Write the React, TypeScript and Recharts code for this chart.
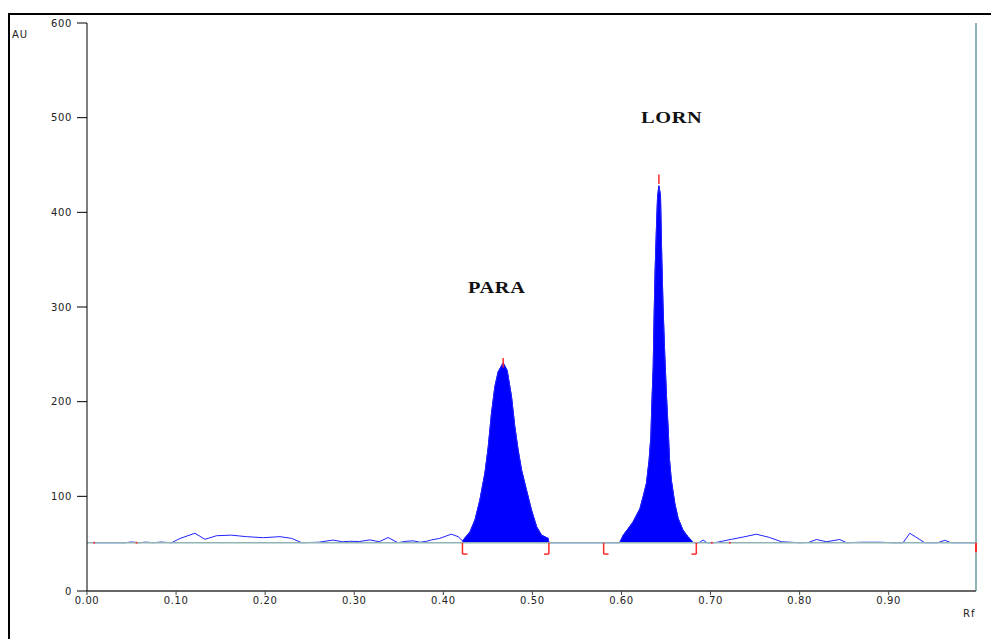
import React from 'react';
import { ComposedChart, Area, Line, XAxis, YAxis, ReferenceLine, ReferenceDot } from 'recharts';

// ---- axis ticks ----
const xTicks = [0, 0.1, 0.2, 0.3, 0.4, 0.5, 0.6, 0.7, 0.8, 0.9];
const yTicks = [0, 100, 200, 300, 400, 500, 600];
const rfMax = 0.998;
const baselineAu = 51;

// ---- trace segments (Rf, AU) ----
const noiseLeftRf = [0.007, 0.043, 0.05, 0.058, 0.066, 0.075, 0.083, 0.095, 0.1044, 0.1212, 0.1324, 0.1455, 0.162, 0.179, 0.198, 0.2166, 0.2297, 0.241, 0.26, 0.276, 0.287, 0.295, 0.306, 0.3176, 0.328, 0.338, 0.349, 0.358, 0.366, 0.374, 0.381, 0.387, 0.396, 0.409, 0.4167];
const noiseLeftAu = [51, 51, 51.8, 51, 51.6, 51, 51.7, 51, 55.5, 61, 54.6, 58.4, 59, 57.4, 56.3, 57.4, 55.6, 51, 51.5, 53.8, 52, 52.5, 52.3, 54, 52, 56.5, 51, 52.5, 53, 51.5, 52.5, 54, 55.6, 60, 57.4];

const paraRf = [0.4215, 0.43, 0.4355, 0.441, 0.4467, 0.4504, 0.4541, 0.4579, 0.4616, 0.4672, 0.4717, 0.4766, 0.4803, 0.484, 0.4878, 0.4934, 0.499, 0.5047, 0.5103, 0.5177, 0.5185];
const paraAu = [53, 62.6, 75, 96, 124.6, 152, 188, 216, 231.6, 241, 233, 205, 173.5, 149, 128, 106.6, 85.5, 68, 59, 55.6, 51];

const midRf = [0.525, 0.55, 0.57, 0.58, 0.59];
const midAu = [51, 51, 51, 51, 51];

const lornRf = [0.598, 0.602, 0.6076, 0.613, 0.6207, 0.6243, 0.628, 0.631, 0.633, 0.634, 0.6356, 0.6367, 0.6378, 0.6393, 0.6405, 0.642, 0.6438, 0.6453, 0.6468, 0.6487, 0.6506, 0.6525, 0.654, 0.656, 0.6599, 0.6636, 0.669, 0.6746, 0.68, 0.681];
const lornAu = [51, 59, 66, 73, 87, 99.6, 113.7, 138, 163, 194.6, 236.8, 293, 339, 384.7, 416, 428, 418, 349.5, 296.7, 247, 205, 170, 138, 117, 92.6, 76.8, 64.4, 57.4, 52, 51];

const noiseRightRf = [0.687, 0.6917, 0.696, 0.705, 0.7235, 0.7366, 0.7515, 0.766, 0.7797, 0.8, 0.81, 0.8189, 0.83, 0.845, 0.8526, 0.87, 0.89, 0.905, 0.916, 0.9237, 0.9405, 0.955, 0.963, 0.97, 0.997];
const noiseRightAu = [51, 53.8, 51, 51, 54.6, 57, 60, 56.6, 52, 51, 51.3, 54.4, 52, 54.4, 51, 51.5, 51.5, 51, 51, 61, 51, 51, 53.6, 51, 51];

// ---- integration markers ----
const peakStartRf = [0.4215, 0.58];
const peakEndRf = [0.5185, 0.684];
const peakTopRf = [0.4672, 0.642];
const peakTopAu = [246, 440];
const markerDotRf = [0.008, 0.0555, 0.7015, 0.7217];

type Row = { rf: number; au: number; peak: number | null };
const seg = (rfs: number[], aus: number[], filled: boolean): Row[] =>
  rfs.map((rf, i) => ({ rf, au: aus[i], peak: filled ? aus[i] : null }));

const rows: Row[] = [
  ...seg(noiseLeftRf, noiseLeftAu, false),
  ...seg(paraRf, paraAu, true),
  ...seg(midRf, midAu, false),
  ...seg(lornRf, lornAu, true),
  ...seg(noiseRightRf, noiseRightAu, false),
];

const RED = '#ff2a2a';
const TEAL = '#8fb4b4';
const BLUE = '#0000ff';
const footW = 0.0055;
const footY = 39;

const tickFont = { fontSize: 10, fontFamily: '"DejaVu Sans", Verdana, sans-serif', fill: '#222', letterSpacing: 0.6 };
const sideLabel: React.CSSProperties = { position: 'absolute', fontSize: 10, lineHeight: '10px', fontFamily: '"DejaVu Sans", Verdana, sans-serif', letterSpacing: 1, color: '#222' };
const peakLabel: React.CSSProperties = { position: 'absolute', fontSize: 16, lineHeight: '16px', fontFamily: '"Liberation Serif", "Times New Roman", serif', fontWeight: 'bold', letterSpacing: 0.5, color: '#111', transform: 'scaleX(1.27)', transformOrigin: 'left top' };

export default function App() {
  return (
    <div style={{ position: 'absolute', left: 0, top: 0, width: 991, height: 639, overflow: 'hidden', background: '#fff' }}>
      <div style={{ position: 'absolute', left: 8, top: 13, width: 983, height: 626, boxSizing: 'border-box', borderTop: '2px solid #000', borderLeft: '2px solid #000' }} />
      <div style={{ position: 'absolute', left: 0, top: 0 }}>
        <ComposedChart width={991} height={639} data={rows} margin={{ top: 23, right: 15, bottom: 18, left: 27 }}>
          <XAxis
            dataKey="rf"
            type="number"
            domain={[0, rfMax]}
            ticks={xTicks}
            tickFormatter={(v: number) => v.toFixed(2)}
            height={30}
            axisLine={{ stroke: '#666', strokeWidth: 2 }}
            tickLine={{ stroke: '#444' }}
            tickSize={4}
            tickMargin={2}
            tick={tickFont}
            allowDataOverflow
          />
          <YAxis
            type="number"
            domain={[0, 600]}
            ticks={yTicks}
            width={60}
            axisLine={{ stroke: '#000' }}
            tickLine={{ stroke: '#000' }}
            tickSize={10}
            tickMargin={5}
            tick={tickFont}
            allowDataOverflow
          />
          <ReferenceLine x={rfMax} stroke={TEAL} strokeWidth={2} />
          <Area
            type="linear"
            dataKey="peak"
            baseValue={baselineAu}
            stroke={BLUE}
            strokeWidth={1}
            fill={BLUE}
            fillOpacity={1}
            connectNulls={false}
            isAnimationActive={false}
            dot={false}
            activeDot={false}
          />
          <Line
            type="linear"
            dataKey="au"
            stroke="#2222ff"
            strokeWidth={1}
            dot={false}
            activeDot={false}
            isAnimationActive={false}
          />
          <ReferenceLine y={baselineAu} stroke={TEAL} strokeWidth={1.5} />
          {peakStartRf.map((x, i) => (
            <ReferenceLine key={'s' + i} segment={[{ x, y: baselineAu }, { x, y: footY }]} stroke={RED} strokeWidth={1.5} />
          ))}
          {peakStartRf.map((x, i) => (
            <ReferenceLine key={'sf' + i} segment={[{ x, y: footY }, { x: x + footW, y: footY }]} stroke={RED} strokeWidth={1.5} />
          ))}
          {peakEndRf.map((x, i) => (
            <ReferenceLine key={'e' + i} segment={[{ x, y: baselineAu }, { x, y: footY }]} stroke={RED} strokeWidth={1.5} />
          ))}
          {peakEndRf.map((x, i) => (
            <ReferenceLine key={'ef' + i} segment={[{ x: x - footW, y: footY }, { x, y: footY }]} stroke={RED} strokeWidth={1.5} />
          ))}
          {peakTopRf.map((x, i) => (
            <ReferenceLine key={'t' + i} segment={[{ x, y: peakTopAu[i] }, { x, y: peakTopAu[i] - 10 }]} stroke={RED} strokeWidth={1.5} />
          ))}
          <ReferenceLine segment={[{ x: rfMax, y: baselineAu }, { x: rfMax, y: 41 }]} stroke={RED} strokeWidth={2} />
          {markerDotRf.map((x, i) => (
            <ReferenceDot key={'d' + i} x={x} y={baselineAu} r={1} fill={RED} stroke="none" />
          ))}
        </ComposedChart>
      </div>
      <div style={{ ...sideLabel, left: 12, top: 30 }}>AU</div>
      <div style={{ ...sideLabel, left: 963, top: 609 }}>Rf</div>
      <div style={{ ...peakLabel, left: 468, top: 280 }}>PARA</div>
      <div style={{ ...peakLabel, left: 641, top: 110 }}>LORN</div>
    </div>
  );
}
